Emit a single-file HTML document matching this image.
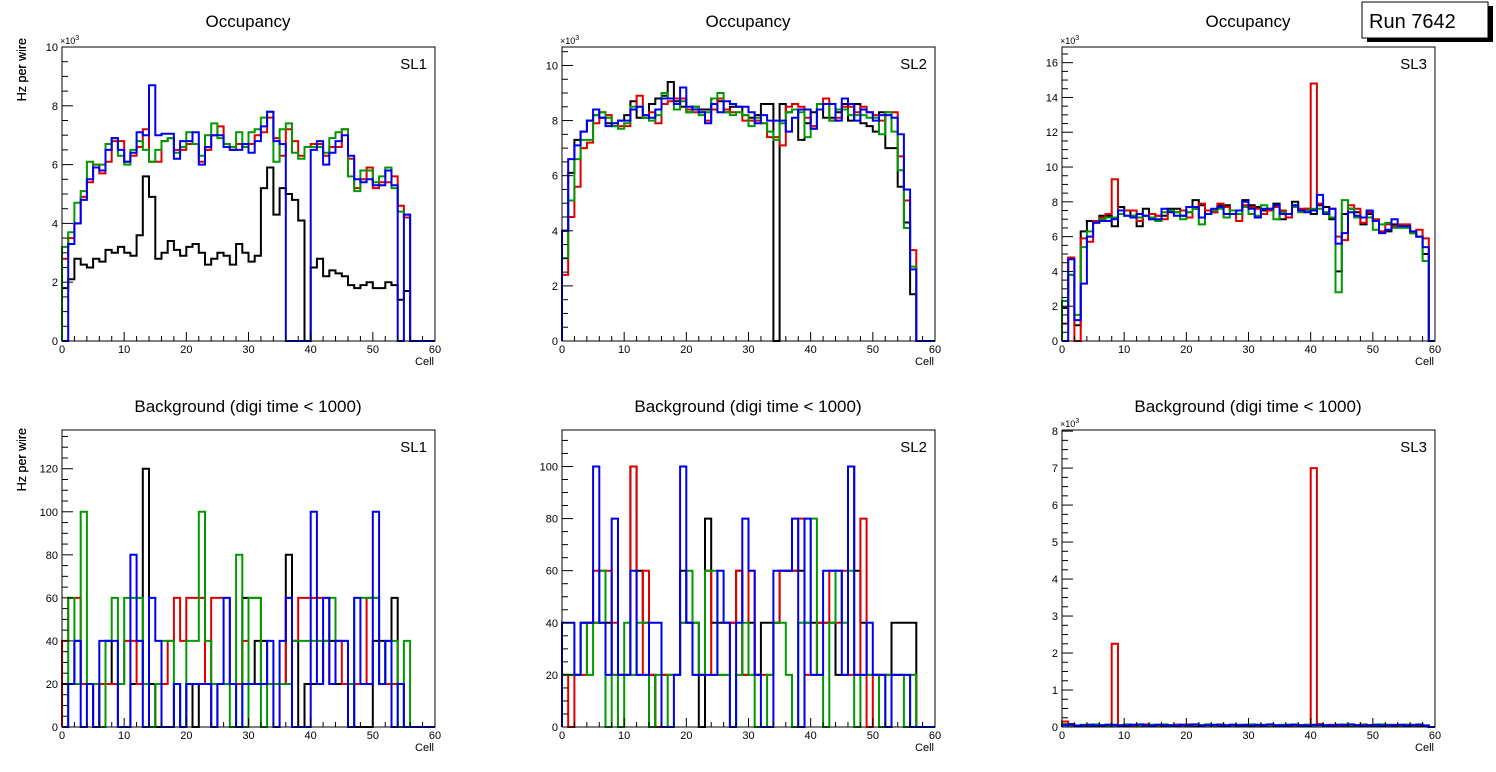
<!DOCTYPE html>
<html><head><meta charset="utf-8"><style>
body{margin:0;background:#fff;}
svg{display:block;font-family:"Liberation Sans",sans-serif;}
</style></head><body>
<svg id="c" width="1496" height="772" viewBox="0 0 1496 772" xmlns="http://www.w3.org/2000/svg">
<rect width="1496" height="772" fill="#fff"/>
<g>
<rect x="1367" y="6" width="126" height="36" fill="#000"/>
<rect x="1362" y="2" width="126" height="36" fill="#fff" stroke="#000" stroke-width="1"/>
<text x="1369" y="28" font-size="20">Run 7642</text>
</g>
</svg>
<script>
const cats=[];for(let i=0;i<60;i++)cats.push(i);
// Occupancy SL1 (x10^3)
const occ1Black=[1.8,2.1,2.8,2.6,2.5,2.8,2.7,3.1,3.0,3.2,3.0,2.9,3.6,5.6,4.9,2.8,3.0,3.4,3.1,2.9,3.2,3.3,3.0,2.6,2.8,3.0,2.9,2.6,3.3,3.0,2.7,2.9,5.2,5.9,4.3,5.2,5.0,4.8,4.1,0,2.5,2.8,2.2,2.4,2.3,2.2,1.9,1.8,1.9,2.0,1.8,1.8,2.0,1.9,1.4,1.7,0,0,0,0];
const occ1Red=[2.8,3.5,4.0,4.9,5.4,6.0,5.7,6.1,6.8,6.8,6.1,6.3,6.6,7.2,6.1,6.1,6.8,6.9,6.5,6.5,6.7,6.7,6.1,6.5,7.0,7.3,6.7,6.5,6.7,6.6,6.7,7.0,7.1,7.6,6.9,6.3,7.2,6.8,6.3,6.6,6.7,6.7,6.3,6.6,6.6,7.2,6.2,5.2,5.5,5.9,5.2,5.4,5.4,5.6,4.6,4.2,0,0,0,0];
const occ1Green=[3.2,3.7,4.7,5.1,6.1,6.0,6.0,6.7,6.9,6.3,6.0,6.5,6.8,6.5,6.1,6.5,6.8,6.9,6.4,6.6,7.1,6.7,6.3,7.0,7.4,6.9,6.7,6.6,7.1,6.6,7.1,7.2,7.6,7.8,6.1,7.2,7.4,6.4,6.2,6.6,6.6,6.6,6.4,6.9,7.1,7.2,5.6,5.1,5.8,5.8,5.4,5.6,5.9,5.2,4.4,4.3,0,0,0,0];
const occ1Blue=[0,3.3,4.0,4.8,5.5,5.9,5.8,6.5,6.9,6.5,6.1,6.4,7.1,7.0,8.7,7.0,7.05,7.05,6.2,6.8,6.8,7.1,6.0,6.6,7.0,7.0,6.6,6.5,6.5,6.7,6.4,6.8,7.3,7.8,6.8,6.7,0,0,0,0,6.5,6.8,6.0,6.4,6.8,7.0,6.3,5.5,5.4,5.5,5.3,5.3,5.8,5.3,0,4.3,0,0,0,0];
// Occupancy SL2
const occ2Black=[4.0,6.1,7.3,7.6,8.0,8.2,8.1,7.9,7.8,8.0,8.2,8.7,8.1,8.1,8.6,8.8,8.9,9.4,8.7,8.5,8.3,8.5,8.4,8.4,8.8,8.7,8.3,8.5,8.5,8.2,8.1,8.2,8.6,8.6,0,8.6,8.3,8.4,7.3,7.9,8.3,8.4,8.1,8.1,8.3,8.6,8.0,8.6,7.9,7.8,7.6,8.3,7.0,7.0,5.6,4.3,1.7,0,0,0];
const occ2Red=[2.4,4.5,5.6,7.0,7.2,7.9,8.3,8.2,7.9,7.8,7.8,8.4,8.9,8.1,8.3,7.9,8.6,8.7,8.8,8.8,8.4,8.3,8.3,8.0,8.4,8.8,8.4,8.3,8.3,8.0,8.0,8.0,7.9,7.4,7.4,7.1,8.5,8.6,8.5,8.1,7.8,8.4,8.8,8.0,8.1,8.5,8.5,8.3,8.5,8.3,8.2,8.0,8.3,8.3,6.7,5.1,3.3,0,0,0];
const occ2Green=[3.0,5.1,6.6,7.3,7.3,8.2,8.3,8.1,7.8,7.7,7.9,8.5,8.5,8.1,8.0,8.2,9.0,8.8,8.4,8.7,8.3,8.5,8.2,8.3,8.8,9.0,8.3,8.2,8.3,8.2,7.8,8.1,7.9,7.6,7.3,7.9,8.3,8.4,8.3,7.4,7.7,8.6,8.6,8.0,8.4,8.4,8.2,8.2,8.2,8.1,8.1,7.5,8.3,7.6,6.2,4.1,2.7,0,0,0];
const occ2Blue=[4.0,6.6,7.1,7.6,8.0,8.4,8.1,7.8,7.9,8.0,8.0,8.4,8.5,8.2,8.1,8.4,8.8,8.8,8.6,9.2,8.5,8.4,8.3,7.9,8.6,8.3,8.7,8.6,8.5,8.5,8.3,7.9,8.2,8.0,8.0,8.0,7.6,8.1,8.4,8.4,7.7,8.4,8.6,8.6,8.0,8.8,8.6,8.0,8.4,8.3,8.0,8.2,8.2,8.1,7.5,5.5,2.6,0,0,0];
// Occupancy SL3
const occ3Black=[1.9,3.8,0.9,6.3,6.9,6.9,7.2,7.2,6.6,7.7,7.5,7.2,6.6,7.6,7.0,7.2,7.2,7.6,7.6,7.2,7.4,8.1,7.8,7.3,7.4,7.8,7.8,7.3,7.3,8.1,7.8,7.7,7.5,7.5,7.9,7.0,7.3,8.0,7.5,7.6,7.3,7.8,7.7,7.0,4.0,7.3,7.6,7.4,6.7,7.3,6.9,6.3,6.3,6.7,6.6,6.6,6.2,6.0,5.0,0];
const occ3Red=[1.0,4.8,0,5.9,5.7,6.9,7.1,7.3,9.3,7.3,7.5,7.5,6.9,7.2,7.3,7.2,7.0,7.5,7.4,7.5,7.1,7.6,7.9,7.5,7.4,7.9,7.7,7.5,6.9,7.8,7.7,7.6,7.3,7.5,7.7,7.5,7.1,7.8,7.6,7.6,14.8,7.9,7.4,7.6,6.0,5.8,7.8,7.6,6.8,7.4,7.0,6.3,6.7,6.6,6.7,6.7,6.2,6.4,5.9,0];
const occ3Green=[2.3,3.8,1.5,5.4,6.3,6.8,7.0,7.1,7.1,7.3,7.2,7.2,7.1,7.2,7.1,6.9,7.4,7.5,7.4,7.0,7.4,7.6,6.7,7.3,7.5,7.6,7.1,7.5,7.3,7.7,7.3,7.2,7.8,7.6,7.0,7.4,7.3,7.7,7.4,7.5,7.6,7.6,7.4,7.1,2.8,8.1,7.6,7.1,7.1,7.1,6.4,6.7,6.8,6.5,6.5,6.5,6.2,6.0,4.6,0];
const occ3Blue=[0,4.7,1.2,3.3,6.0,6.8,6.9,6.9,7.0,7.5,7.2,7.1,7.3,7.2,7.0,7.0,7.6,7.4,7.2,7.2,7.7,7.7,7.1,7.3,7.6,7.7,7.3,7.3,7.5,8.0,7.6,7.1,7.6,7.6,7.8,7.3,7.3,7.8,7.5,7.4,7.5,8.4,7.3,7.6,5.6,6.2,7.4,7.2,7.1,7.5,6.9,6.2,6.4,7.0,6.6,6.6,6.3,6.0,5.4,0];
// Background SL1 (Hz)
const bg1Black=[20,20,40,20,20,0,20,40,20,0,0,20,20,120,20,0,0,0,20,0,20,0,20,20,0,20,20,20,20,60,20,40,40,20,20,20,80,40,0,20,20,20,40,40,20,20,20,0,0,0,40,40,20,60,20,0,0,0,0,0];
const bg1Red=[40,60,60,20,20,0,20,20,20,20,40,40,20,20,0,20,20,40,60,40,60,60,60,20,60,60,60,20,20,40,60,60,20,20,20,20,60,40,60,60,60,60,60,20,40,20,20,20,20,60,60,20,20,20,20,0,0,0,0,0];
const bg1Green=[0,60,20,100,20,20,0,40,60,20,60,60,60,20,0,20,40,40,20,0,40,40,100,40,20,20,20,0,80,0,60,60,0,20,20,20,20,40,40,40,40,40,40,60,40,40,20,60,60,60,60,20,40,40,0,40,0,0,0,0];
const bg1Blue=[0,20,40,0,20,0,40,40,40,0,0,80,40,0,60,40,0,0,20,0,20,20,20,20,0,20,60,20,0,20,20,20,20,40,0,40,60,0,0,0,100,20,60,20,40,40,0,60,20,20,100,20,40,0,20,0,0,0,0,0];
// Background SL2 (Hz)
const bg2Black=[20,20,20,40,40,40,40,40,20,20,20,100,60,40,20,0,20,20,20,60,40,40,0,80,40,40,40,40,60,20,40,20,40,40,40,60,60,60,60,40,40,40,40,40,20,20,100,60,40,20,20,20,20,40,40,40,40,0,0,0];
const bg2Red=[20,0,20,20,40,60,60,60,40,20,20,100,20,60,20,0,20,20,20,40,40,20,20,60,20,20,20,40,60,20,60,20,20,20,40,60,60,60,80,20,20,40,40,60,40,60,20,20,80,0,20,20,20,20,20,20,20,0,0,0];
const bg2Green=[20,20,20,40,20,40,60,0,20,0,40,20,40,40,0,20,0,20,20,40,60,40,20,60,60,20,20,0,20,40,20,0,0,20,40,40,20,0,40,40,80,20,0,40,60,40,60,0,20,20,20,0,20,20,20,0,20,0,0,0];
const bg2Blue=[40,40,20,40,40,100,40,20,80,20,20,60,20,20,40,40,0,0,20,100,40,20,20,20,20,60,40,0,40,80,60,20,0,0,60,60,60,80,0,80,20,20,60,60,60,20,100,20,20,40,20,20,0,20,20,20,0,0,0,0];
// Background SL3 (x10^3 Hz)
const bg3Black=[0.06,0.05,0.03,0.05,0.04,0.05,0.04,0.05,0.06,0.05,0.04,0.05,0.05,0.06,0.04,0.05,0.05,0.04,0.06,0.05,0.05,0.04,0.05,0.06,0.05,0.04,0.05,0.05,0.04,0.06,0.05,0.04,0.05,0.05,0.04,0.05,0.06,0.05,0.04,0.05,0.05,0.06,0.05,0.04,0.05,0.05,0.04,0.05,0.06,0.05,0.04,0.05,0.05,0.04,0.05,0.06,0.05,0.04,0.03,0];
const bg3Red=[0.15,0.08,0.03,0.05,0.06,0.05,0.04,0.06,2.25,0.05,0.06,0.04,0.05,0.07,0.05,0.06,0.04,0.05,0.06,0.05,0.07,0.05,0.04,0.06,0.05,0.07,0.05,0.06,0.04,0.05,0.06,0.05,0.04,0.06,0.05,0.05,0.04,0.06,0.05,0.06,7.0,0.08,0.05,0.06,0.04,0.05,0.06,0.05,0.07,0.05,0.06,0.04,0.05,0.06,0.05,0.04,0.06,0.05,0.04,0];
const bg3Green=[0.08,0.06,0.04,0.06,0.05,0.07,0.05,0.04,0.06,0.05,0.07,0.06,0.05,0.04,0.06,0.05,0.07,0.05,0.04,0.06,0.05,0.06,0.05,0.07,0.04,0.06,0.05,0.05,0.06,0.04,0.07,0.05,0.06,0.05,0.04,0.06,0.05,0.07,0.05,0.06,0.05,0.06,0.04,0.05,0.06,0.07,0.05,0.04,0.06,0.05,0.05,0.07,0.06,0.05,0.04,0.06,0.05,0.07,0.05,0];
const bg3Blue=[0.05,0.07,0.04,0.05,0.06,0.04,0.05,0.06,0.05,0.04,0.05,0.06,0.07,0.05,0.04,0.06,0.05,0.05,0.04,0.06,0.05,0.07,0.04,0.05,0.06,0.05,0.04,0.06,0.05,0.05,0.04,0.06,0.05,0.07,0.05,0.04,0.05,0.06,0.05,0.04,0.06,0.05,0.05,0.04,0.06,0.05,0.07,0.05,0.04,0.05,0.06,0.04,0.05,0.05,0.06,0.04,0.05,0.06,0.04,0];
const xTicks=[0,10,20,30,40,50,60];
const yTicksOcc=[0,2,4,6,8,10,12,14,16];
const yTicksBg1=[0,20,40,60,80,100,120];
const yTicksBg3=[0,1,2,3,4,5,6,7,8];

const NS='http://www.w3.org/2000/svg';
const svg=document.getElementById('c');
function mk(tag,attrs,parent){const e=document.createElementNS(NS,tag);for(const k in attrs)e.setAttribute(k,attrs[k]);(parent||svg).appendChild(e);return e;}
const colors=['#000000','#dd0000','#009900','#0000ee'];
const cnames=['black','red','green','blue'];
const panels=[
 {id:'occ-sl1',x0:62,top:47,bot:341,ymax:10,maj:2,ticks:yTicksOcc,title:'Occupancy',sl:'SL1',exp:true,series:[occ1Black,occ1Red,occ1Green,occ1Blue]},
 {id:'occ-sl2',x0:562,top:47,bot:341,ymax:10.67,maj:2,ticks:yTicksOcc,title:'Occupancy',sl:'SL2',exp:true,series:[occ2Black,occ2Red,occ2Green,occ2Blue]},
 {id:'occ-sl3',x0:1062,top:47,bot:341,ymax:16.9,maj:2,ticks:yTicksOcc,title:'Occupancy',sl:'SL3',exp:true,series:[occ3Black,occ3Red,occ3Green,occ3Blue]},
 {id:'bg-sl1',x0:62,top:430,bot:727,ymax:138,maj:20,ticks:yTicksBg1,title:'Background (digi time < 1000)',sl:'SL1',exp:false,series:[bg1Black,bg1Red,bg1Green,bg1Blue]},
 {id:'bg-sl2',x0:562,top:430,bot:727,ymax:114,maj:20,ticks:yTicksBg1,title:'Background (digi time < 1000)',sl:'SL2',exp:false,series:[bg2Black,bg2Red,bg2Green,bg2Blue]},
 {id:'bg-sl3',x0:1062,top:430,bot:727,ymax:8.03,maj:1,ticks:yTicksBg3,title:'Background (digi time < 1000)',sl:'SL3',exp:true,series:[bg3Black,bg3Red,bg3Green,bg3Blue]}
];
const W=373;
panels.forEach(p=>{
 const g=mk('g',{});
 
 
 const xs=v=>p.x0+v/60*W;
 const ys=v=>p.bot-v/p.ymax*(p.bot-p.top);
 const t=mk('text',{x:p.x0+186,y:p.top<100?27:412,'font-size':17,'text-anchor':'middle'},g);
 t.textContent=p.title;
 
 
 p.series.forEach((s,k)=>{
  let d='M'+xs(0)+','+ys(0);
  for(let i=0;i<cats.length;i++){const v=Math.min(s[i],p.ymax);d+=' V'+ys(v).toFixed(1)+' H'+xs(cats[i]+1).toFixed(1);}
  d+=' V'+ys(0);
  const path=mk('path',{d:d,fill:'none',stroke:colors[k],'stroke-width':2},g);
  
  
 });
 const fr=mk('rect',{x:p.x0,y:p.top,width:W,height:p.bot-p.top,fill:'none',stroke:'#000','stroke-width':1},g);
 
 
 for(let v=0;v<=60;v+=2){const L=v%10===0?9:5;mk('line',{x1:xs(v),x2:xs(v),y1:p.bot,y2:p.bot-L,stroke:'#000','stroke-width':1},g);}
 xTicks.forEach(v=>{const tt=mk('text',{x:xs(v),y:p.bot+12,'font-size':11,'text-anchor':'middle'},g);tt.textContent=v;
  
  });
 const xl=mk('text',{x:p.x0+W-1,y:p.bot+24,'font-size':11,'text-anchor':'end'},g);xl.textContent='Cell';
 
 
 const minor=p.maj/4;
 for(let v=0;v<=p.ymax+1e-9;v+=minor){const isMaj=Math.abs(v/p.maj-Math.round(v/p.maj))<1e-6;mk('line',{x1:p.x0,x2:p.x0+(isMaj?11:6),y1:ys(v),y2:ys(v),stroke:'#000','stroke-width':1},g);}
 p.ticks.filter(v=>v<=p.ymax).forEach(v=>{const tt=mk('text',{x:p.x0-4,y:ys(v)+4,'font-size':11,'text-anchor':'end'},g);tt.textContent=v;
  
  });
 const yl=mk('text',{transform:'translate(26,'+(p.top<100?38:428)+') rotate(-90)','font-size':12.5,'text-anchor':'end'},g);
 yl.textContent='Hz per wire';
 
 
 if(p.exp){const ex=mk('text',{x:p.x0-2,y:p.top-3,'font-size':9},g);ex.innerHTML='×10<tspan dy="-4" font-size="7">3</tspan>';
  
  }
 const sl=mk('text',{x:p.x0+W-8,y:p.top+22,'font-size':15,'text-anchor':'end'},g);sl.textContent=p.sl;
 
 
});
</script>
</body></html>
